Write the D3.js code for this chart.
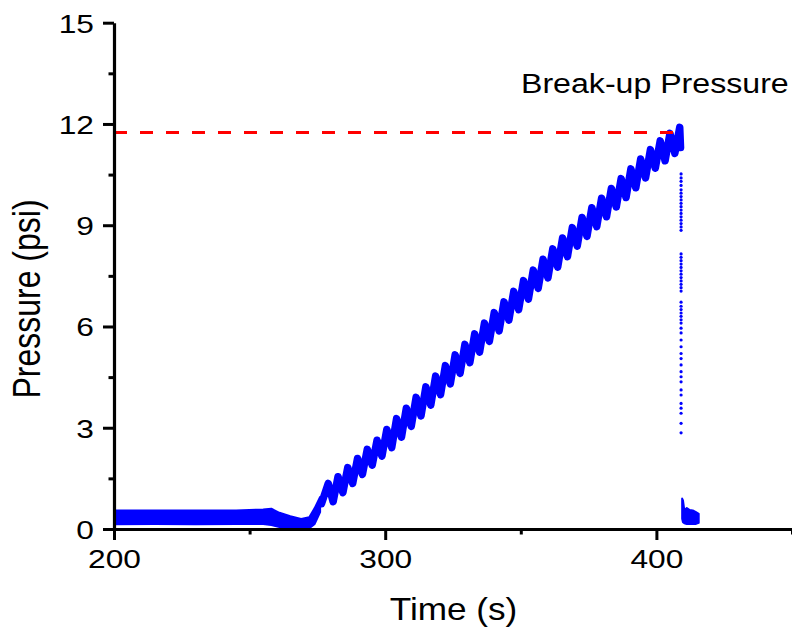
<!DOCTYPE html>
<html>
<head>
<meta charset="utf-8">
<script src="https://cdn.jsdelivr.net/npm/d3@7"></script>
<style>
  html, body { margin: 0; padding: 0; background: #fff; }
  svg { display: block; font-family: "Liberation Sans", Arial, sans-serif; }
</style>
</head>
<body>
<svg id="pressure-svg" width="792" height="630"></svg>
<script>
// Tick values
const timeTicks = [200, 300, 400];
const timeMinorTicks = [250, 350, 450];
const pressureTicks = [0, 3, 6, 9, 12, 15];
const pressureMinorTicks = [1.5, 4.5, 7.5, 10.5, 13.5];

// Break-up pressure
const breakupPressure = 11.75;
const breakupTimeEnd = 408.5;

// Flat part before loading (band: upper / lower edge)
const baseTime = [200, 215, 230, 245, 255, 258, 261, 265, 269, 272, 274, 276];
const baseUpper = [0.55, 0.55, 0.55, 0.55, 0.58, 0.6, 0.48, 0.38, 0.3, 0.35, 0.62, 0.95];
const baseLower = [0.14, 0.15, 0.14, 0.15, 0.15, 0.12, 0.06, 0.02, 0.02, 0.02, 0.15, 0.5];

// Loading ramp (peaks and troughs of the oscillation)
const rampTime = [
  276.5, 279.0, 280.8, 282.6, 284.4, 286.2, 288.0, 289.8, 291.6, 293.4, 295.2,
  297.0, 298.8, 300.6, 302.4, 304.2, 306.0, 307.8, 309.6, 311.4, 313.2,
  315.0, 316.8, 318.6, 320.4, 322.2, 324.0, 325.8, 327.6, 329.4, 331.2,
  333.0, 334.8, 336.6, 338.4, 340.2, 342.0, 343.8, 345.6, 347.4, 349.2,
  351.0, 352.8, 354.6, 356.4, 358.2, 360.0, 361.8, 363.6, 365.4, 367.2,
  369.0, 370.8, 372.6, 374.4, 376.2, 378.0, 379.8, 381.6, 383.4, 385.2,
  387.0, 388.8, 390.6, 392.4, 394.2, 396.0, 397.8, 399.6, 401.4, 403.2,
  405.0, 406.8, 408.6, 408.9
];
const rampPressure = [
  0.75, 1.35, 0.81, 1.55, 1.08, 1.82, 1.35, 2.09, 1.62, 2.36, 1.89,
  2.63, 2.16, 2.95, 2.41, 3.27, 2.72, 3.58, 3.04, 3.9, 3.35,
  4.21, 3.67, 4.53, 3.98, 4.84, 4.3, 5.16, 4.61, 5.47, 4.93,
  5.78, 5.24, 6.1, 5.56, 6.41, 5.87, 6.73, 6.19, 7.04, 6.5,
  7.36, 6.81, 7.67, 7.13, 7.99, 7.44, 8.3, 7.76, 8.62, 8.07,
  8.93, 8.38, 9.23, 8.67, 9.52, 8.96, 9.8, 9.25, 10.09, 9.54,
  10.38, 9.82, 10.67, 10.11, 10.96, 10.4, 11.24, 10.69, 11.5, 10.91,
  11.72, 11.13, 11.9, 11.3
];

// Sparse points during the pressure drop
const dropTime = 409.1;
const dropPressure = [
  10.52, 10.4, 10.3, 10.18, 10.05, 9.95, 9.85, 9.75, 9.65, 9.55, 9.45, 9.35,
  9.25, 9.15, 9.05, 8.95, 8.85,
  8.15, 8.05, 7.95, 7.85, 7.75, 7.65, 7.55, 7.45, 7.35, 7.25, 7.15, 7.05,
  6.72, 6.6, 6.5, 6.4, 6.3, 6.2, 6.1,
  5.95, 5.81, 5.6, 5.4, 5.2, 5.05, 4.86, 4.66, 4.51, 4.36, 4.12, 3.97,
  3.72, 3.58, 3.43, 3.13, 2.85
];

// After break-up (band)
const tailTime = [409.5, 409.8, 410.3, 411.2, 412.3, 413.4, 414.6, 415.6];
const tailUpper = [0.9, 0.85, 0.55, 0.62, 0.56, 0.55, 0.5, 0.45];
const tailLower = [0.3, 0.2, 0.17, 0.15, 0.15, 0.15, 0.15, 0.18];

// Layout
const xLeft = 114;
const xRight = 792;
const yTop = 22.7;
const yBottom = 529;
const stretch = 1.22;
const blue = "#0000ff";

const svg = d3.select("#pressure-svg");

const xScale = d3.scaleLinear().domain([200, 450]).range([xLeft, xRight]);
const yScale = d3.scaleLinear().domain([0, 15]).range([yBottom, yTop]);

// Data: flat band
const bandArea = d3
  .area()
  .x((d) => xScale(d.t))
  .y0((d) => yScale(d.lo))
  .y1((d) => yScale(d.hi));

const baseData = baseTime.map((t, i) => ({ t: t, hi: baseUpper[i], lo: baseLower[i] }));
svg
  .append("path")
  .attr("d", bandArea(baseData))
  .style("fill", blue)
  .style("stroke", blue)
  .style("stroke-width", 2)
  .style("stroke-linejoin", "round");

// Ramp
const rampLine = d3
  .line()
  .x((d) => xScale(d[0]))
  .y((d) => yScale(d[1]));
svg
  .append("path")
  .attr("d", rampLine(rampTime.map((t, i) => [t, rampPressure[i]])))
  .style("fill", "none")
  .style("stroke", blue)
  .style("stroke-width", 7.5)
  .style("stroke-linejoin", "round")
  .style("stroke-linecap", "round");

// Drop points
svg
  .selectAll(".drop-dot")
  .data(dropPressure)
  .enter()
  .append("circle")
  .classed("drop-dot", true)
  .attr("cx", xScale(dropTime))
  .attr("cy", (d) => yScale(d))
  .attr("r", 1.6)
  .style("fill", blue);

// Tail band
const tailData = tailTime.map((t, i) => ({ t: t, hi: tailUpper[i], lo: tailLower[i] }));
svg
  .append("path")
  .attr("d", bandArea(tailData))
  .style("fill", blue)
  .style("stroke", blue)
  .style("stroke-width", 2)
  .style("stroke-linejoin", "round");

// Break-up pressure line
svg
  .append("line")
  .attr("x1", xScale(200))
  .attr("x2", xScale(breakupTimeEnd))
  .attr("y1", yScale(breakupPressure))
  .attr("y2", yScale(breakupPressure))
  .style("stroke", "#ff0000")
  .style("stroke-width", 3)
  .style("stroke-dasharray", "13 13");

// X axis
const xAxis = d3
  .axisBottom(xScale)
  .tickValues(timeTicks)
  .tickSize(11)
  .tickSizeOuter(0);
const xAxisG = svg
  .append("g")
  .attr("transform", `translate(0,${yBottom})`)
  .call(xAxis);
svg
  .append("g")
  .attr("transform", `translate(0,${yBottom})`)
  .call(d3.axisBottom(xScale).tickValues(timeMinorTicks).tickSize(5.5).tickSizeOuter(0).tickFormat(""))
  .select(".domain")
  .remove();

// Y axis
const yAxis = d3
  .axisLeft(yScale)
  .tickValues(pressureTicks)
  .tickSize(11)
  .tickSizeOuter(0);
const yAxisG = svg
  .append("g")
  .attr("transform", `translate(${xLeft},0)`)
  .call(yAxis);
svg
  .append("g")
  .attr("transform", `translate(${xLeft},0)`)
  .call(d3.axisLeft(yScale).tickValues(pressureMinorTicks).tickSize(5.5).tickSizeOuter(0).tickFormat(""))
  .select(".domain")
  .remove();

svg.selectAll(".domain").style("stroke", "#000").style("stroke-width", 3.2);
svg.selectAll(".tick line").style("stroke", "#000").style("stroke-width", 3);

xAxisG
  .selectAll("text")
  .attr("y", 39)
  .attr("dy", 0)
  .attr("transform", `scale(${stretch},1)`)
  .style("font-size", "26px")
  .style("font-family", "Liberation Sans, Arial, sans-serif")
  .style("fill", "#000");

yAxisG
  .selectAll("text")
  .attr("x", -20 / stretch)
  .attr("dy", "0.36em")
  .attr("transform", `scale(${stretch},1)`)
  .style("font-size", "26px")
  .style("font-family", "Liberation Sans, Arial, sans-serif")
  .style("fill", "#000");

// Axis titles
svg
  .append("text")
  .attr("transform", `translate(453.5,620) scale(1.135,1)`)
  .attr("text-anchor", "middle")
  .style("font-size", "31px")
  .text("Time (s)");

svg
  .append("text")
  .attr("transform", `translate(40,299) scale(1.2,1) rotate(-90)`)
  .attr("text-anchor", "middle")
  .style("font-size", "32px")
  .text("Pressure (psi)");

// Annotation
svg
  .append("text")
  .attr("transform", `translate(521,93) scale(1.19,1)`)
  .style("font-size", "27px")
  .text("Break-up Pressure");
</script>
</body>
</html>
